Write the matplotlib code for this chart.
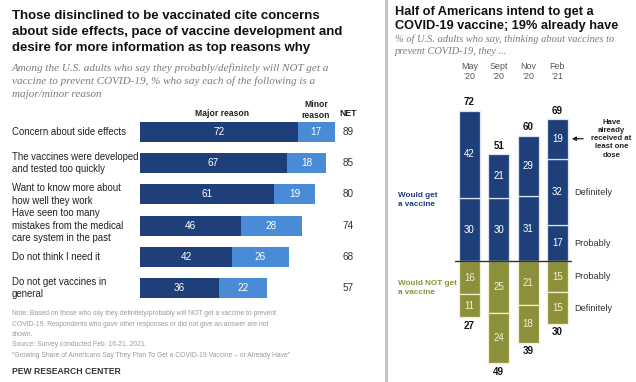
import matplotlib
matplotlib.use("Agg")
import matplotlib.pyplot as plt
import matplotlib.transforms as mtransforms
import numpy as np

# ---------------- data ----------------
categories = ["Concern about side effects",
              "The vaccines were developed\nand tested too quickly",
              "Want to know more about\nhow well they work",
              "Have seen too many\nmistakes from the medical\ncare system in the past",
              "Do not think I need it",
              "Do not get vaccines in\ngeneral"]
major = [72, 67, 61, 46, 42, 36]
minor = [17, 18, 19, 28, 26, 22]
net = [89, 85, 80, 74, 68, 57]

dates = ["May\n\u201920", "Sept\n\u201920", "Nov\n\u201920", "Feb\n\u201921"]
probably_get = [30, 30, 31, 17]
definitely_get = [42, 21, 29, 32]
already_have = [0, 0, 0, 19]
total_get = [72, 51, 60, 69]
probably_not = [16, 25, 21, 15]
definitely_not = [11, 24, 18, 15]
total_not = [27, 49, 39, 30]

# ---------------- style ----------------
W, H = 636, 382
DARK = "#1f3f7a"
LIGHT = "#4a8bd8"
OLIVE = "#8d903b"
SANS = ["Liberation Sans", "DejaVu Sans"]
SERIF = ["Liberation Serif", "DejaVu Serif"]

fig = plt.figure(figsize=(W / 100, H / 100), dpi=100)
fig.patch.set_facecolor("white")


def fx(x):
    return x / W


def fy(y):
    return 1 - y / H


def T(x, y, s, **kw):
    fig.text(fx(x), fy(y), s, **kw)


# divider
fig.add_artist(plt.Line2D([fx(386), fx(386)], [0, 1], color="#c4c4c4", lw=2.2))

# ---------------- left panel ----------------
T(12, 10, "Those disinclined to be vaccinated cite concerns\nabout side effects, pace of vaccine development and\ndesire for more information as top reasons why",
  family=SANS, weight="bold", fontsize=9.5, color="#111", va="top", ha="left",
  linespacing=1.42)
T(12, 63, "Among the U.S. adults who say they probably/definitely will NOT get a\nvaccine to prevent COVID-19, % who say each of the following is a\nmajor/minor reason",
  family=SERIF, style="italic", fontsize=8.0, color="#7a7a7a", va="top", ha="left",
  linespacing=1.5)

scale = 2.19  # px per percentage point
x0 = 140
row_top, row_bot = 132, 288
n = len(categories)
step = (row_bot - row_top) / (n - 1)
axL = fig.add_axes([fx(x0), fy(row_bot + step / 2), 100 * scale / W, (row_bot - row_top + step) / H])
y = np.arange(n)
bh = 20 / step
axL.barh(y, major, height=bh, color=DARK)
axL.barh(y, minor, left=major, height=bh, color=LIGHT)
axL.set_xlim(0, 100)
axL.set_ylim(n - 0.5, -0.5)
axL.axis("off")
for i in range(n):
    axL.text(major[i] / 2, i, str(major[i]), color="white", ha="center", va="center",
             fontsize=7.2, family=SANS)
    axL.text(major[i] + minor[i] / 2, i, str(minor[i]), color="white", ha="center",
             va="center", fontsize=7.2, family=SANS)
trL = mtransforms.blended_transform_factory(fig.transFigure, axL.transData)
for i, c in enumerate(categories):
    axL.text(fx(12), i, c, transform=trL, ha="left", va="center", fontsize=6.9,
             family=SANS, color="#222", linespacing=1.3)
    axL.text(fx(348), i, str(net[i]), transform=trL, ha="center", va="center",
             fontsize=7.2, family=SANS, color="#333")

T(222, 113, "Major reason", ha="center", va="center", family=SANS, weight="bold",
  fontsize=6.2, color="#222")
T(316, 110, "Minor\nreason", ha="center", va="center", family=SANS, weight="bold",
  fontsize=6.2, color="#222", linespacing=1.2)
T(348, 113, "NET", ha="center", va="center", family=SANS, weight="bold",
  fontsize=6.2, color="#222")

T(12, 310, "Note: Based on those who say they definitely/probably will NOT get a vaccine to prevent\nCOVID-19. Respondents who gave other responses or did not give an answer are not\nshown.\nSource: Survey conducted Feb. 16-21, 2021.\n\u201cGrowing Share of Americans Say They Plan To Get a COVID-19 Vaccine \u2013 or Already Have\u201d",
  family=SANS, fontsize=4.9, color="#9a9a9a", va="top", ha="left", linespacing=1.7)
T(12, 372, "PEW RESEARCH CENTER", family=SANS, weight="bold", fontsize=6.2,
  color="#333", va="center", ha="left")

# ---------------- right panel ----------------
T(395, 6, "Half of Americans intend to get a\nCOVID-19 vaccine; 19% already have",
  family=SANS, weight="bold", fontsize=9.2, color="#111", va="top", ha="left",
  linespacing=1.25)
T(395, 34, "% of U.S. adults who say, thinking about vaccines to\nprevent COVID-19, they ...",
  family=SERIF, style="italic", fontsize=7.5, color="#7a7a7a", va="top", ha="left",
  linespacing=1.45)

base = 261
ps = 2.09  # px per point
xc0, xstep = 469.5, 29.3
ylo, yhi = -55, 80
axR = fig.add_axes([fx(xc0 - xstep / 2), fy(base - ylo * ps), 4 * xstep / W,
                    (yhi - ylo) * ps / H])
xs = np.arange(len(dates))
bw = 21 / xstep
pg = np.array(probably_get)
dg = np.array(definitely_get)
ah = np.array(already_have)
pn = np.array(probably_not)
dn = np.array(definitely_not)
axR.bar(xs, pg, width=bw, color=DARK, edgecolor="#dce4f0", lw=0.9)
axR.bar(xs, dg, bottom=pg, width=bw, color=DARK, edgecolor="#dce4f0", lw=0.9)
mask = ah > 0
axR.bar(xs[mask], ah[mask], bottom=(pg + dg)[mask], width=bw, color=DARK,
        edgecolor="#dce4f0", lw=0.9)
axR.bar(xs, -pn, width=bw, color=OLIVE, edgecolor="#f3f1cf", lw=0.9)
axR.bar(xs, -dn, bottom=-pn, width=bw, color=OLIVE, edgecolor="#f3f1cf", lw=0.9)
axR.axhline(0, color="#333", lw=1.0)
axR.set_xlim(-0.5, len(dates) - 0.5)
axR.set_ylim(ylo, yhi)
axR.axis("off")

fs = 7.0
for i in xs:
    axR.text(i, pg[i] / 2, str(pg[i]), color="white", ha="center", va="center",
             fontsize=fs, family=SANS)
    axR.text(i, pg[i] + dg[i] / 2, str(dg[i]), color="white", ha="center",
             va="center", fontsize=fs, family=SANS)
    if ah[i] > 0:
        axR.text(i, pg[i] + dg[i] + ah[i] / 2, str(ah[i]), color="white",
                 ha="center", va="center", fontsize=fs, family=SANS)
    top = pg[i] + dg[i] + ah[i]
    axR.text(i, top + 1.6, str(total_get[i]), color="#111", ha="center",
             va="bottom", fontsize=fs, family=SANS, weight="bold")
    axR.text(i, -pn[i] / 2, str(pn[i]), color="#f3f1cf", ha="center", va="center",
             fontsize=fs, family=SANS)
    axR.text(i, -pn[i] - dn[i] / 2, str(dn[i]), color="#f3f1cf", ha="center",
             va="center", fontsize=fs, family=SANS)
    axR.text(i, -pn[i] - dn[i] - 1.6, str(total_not[i]), color="#111",
             ha="center", va="top", fontsize=fs, family=SANS, weight="bold")
    axR.text(i, 90.7, dates[i], color="#555", ha="center", va="center",
             fontsize=6.4, family=SANS, linespacing=1.2)

last = len(dates) - 1
lx = last + 0.57
axR.text(lx, pg[last] + dg[last] / 2, "Definitely", ha="left", va="center",
         fontsize=6.6, family=SANS, color="#333")
axR.text(lx, pg[last] / 2, "Probably", ha="left", va="center",
         fontsize=6.6, family=SANS, color="#333")
axR.text(lx, -pn[last] / 2, "Probably", ha="left", va="center",
         fontsize=6.6, family=SANS, color="#333")
axR.text(lx, -pn[last] - dn[last] / 2, "Definitely", ha="left", va="center",
         fontsize=6.6, family=SANS, color="#333")
yah = pg[last] + dg[last] + ah[last] / 2
axR.text(last + 1.85, yah, "Have\nalready\nreceived at\nleast one\ndose", ha="center",
         va="center", fontsize=5.6, family=SANS, weight="bold", color="#222",
         linespacing=1.25)
axR.annotate("", xy=(last + 0.49, yah), xytext=(last + 0.88, yah),
             arrowprops=dict(arrowstyle="-|>", color="#222", lw=0.9,
                             mutation_scale=6, shrinkA=0, shrinkB=0))

T(398, 200, "Would get\na vaccine", ha="left", va="center", family=SANS,
  weight="bold", fontsize=5.9, color=DARK, linespacing=1.25)
T(398, 288, "Would NOT get\na vaccine", ha="left", va="center", family=SANS,
  weight="bold", fontsize=5.9, color=OLIVE, linespacing=1.25)

fig.savefig("out.png", dpi=100, facecolor="white")
